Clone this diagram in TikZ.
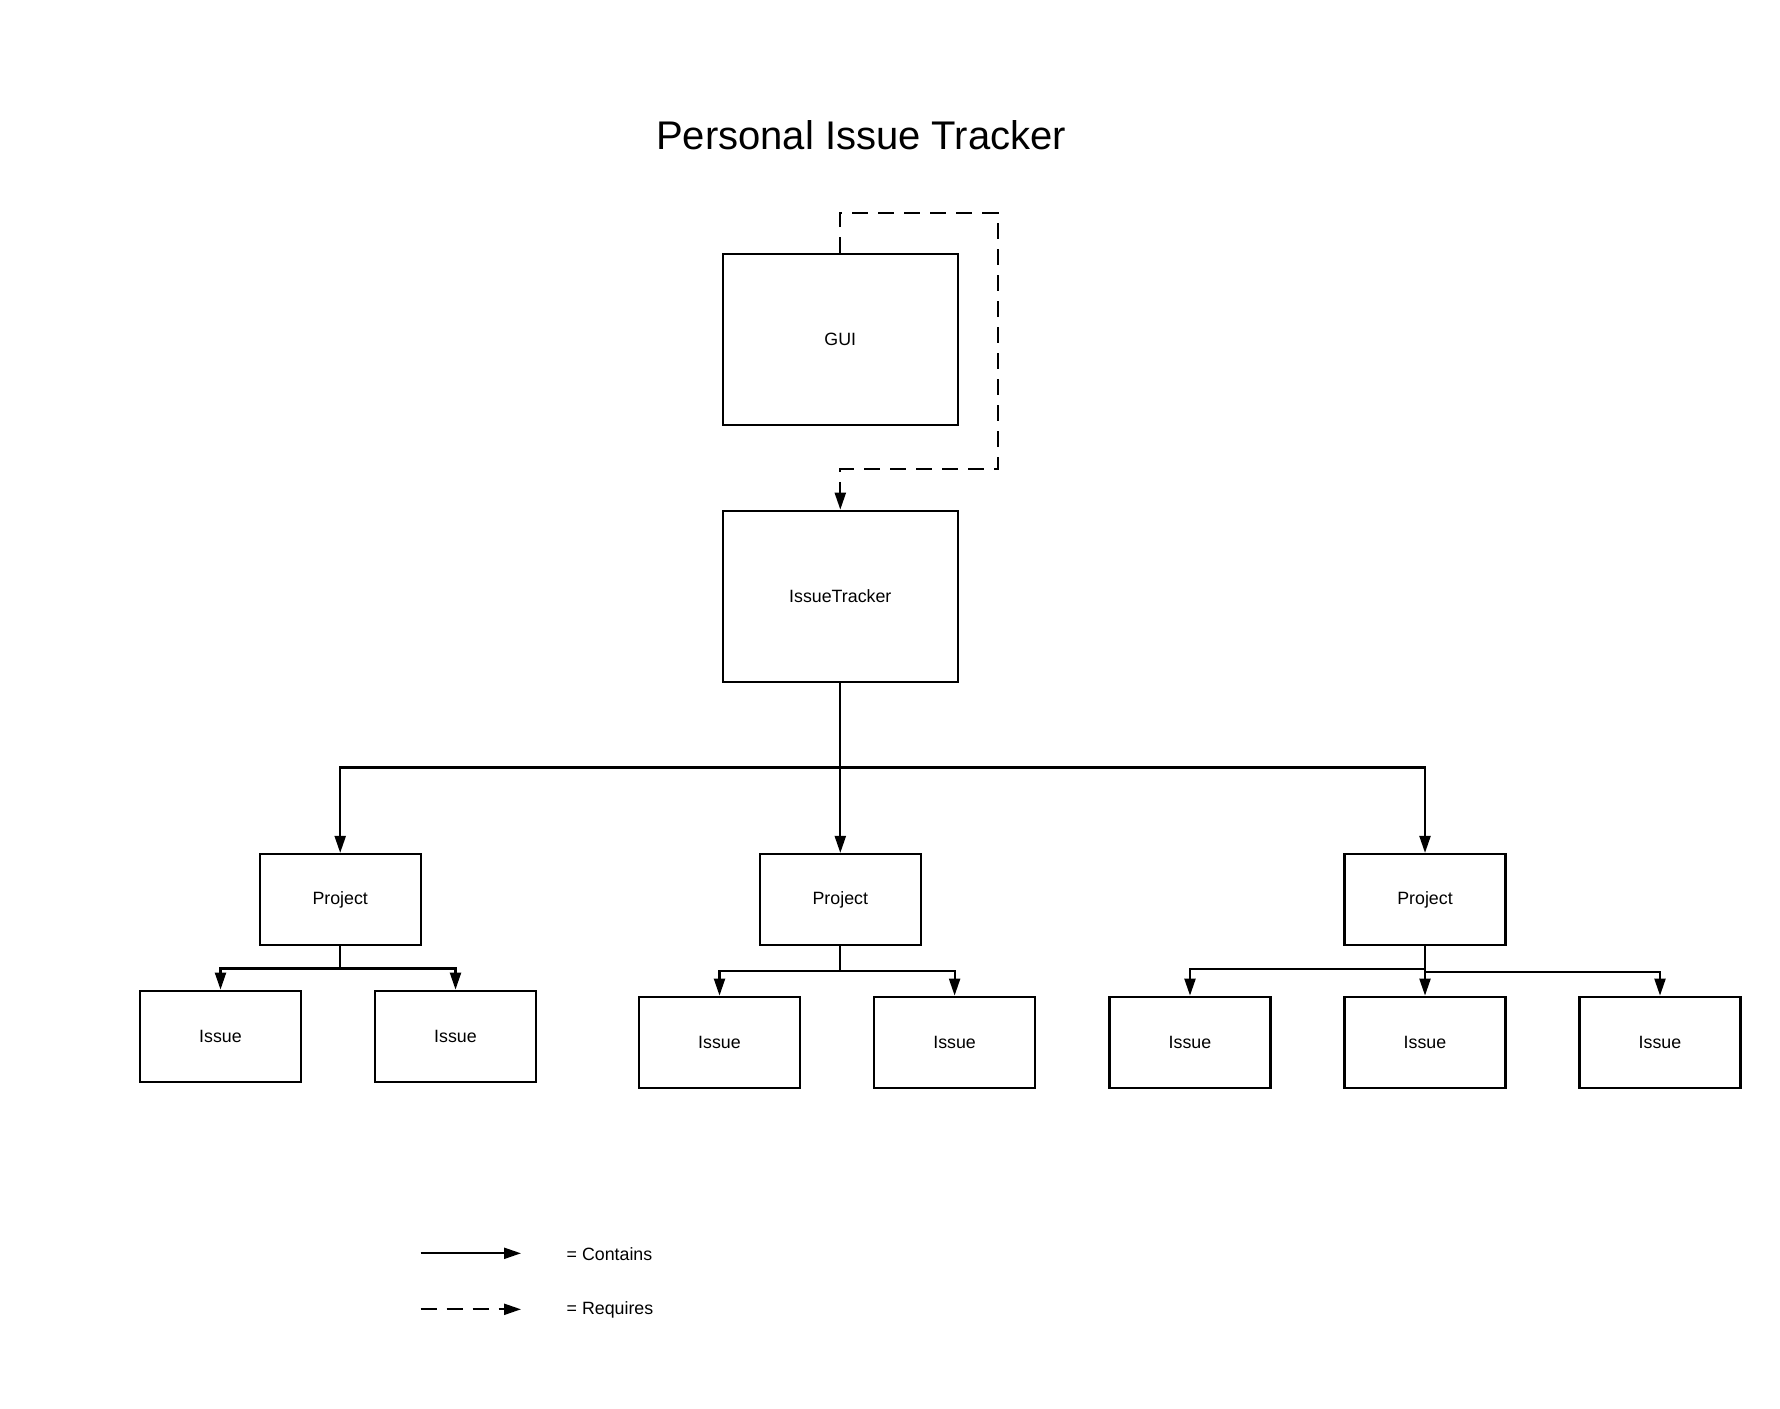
\documentclass[tikz,border=0pt]{standalone}
\usepackage{fontspec}
\setmainfont{Liberation Sans}
\usetikzlibrary{arrows.meta}
\begin{document}
\begin{tikzpicture}[x=1pt,y=-1pt,
  box/.style={draw,line width=2.2pt,rectangle,inner sep=0pt,minimum width=161pt,minimum height=91pt,font=\fontsize{17.8}{20}\selectfont},
  bigbox/.style={box,minimum width=235pt,minimum height=171.5pt},
  con/.style={line width=2.2pt,-{Triangle[length=17pt,width=11pt]}},
  req/.style={con,dash pattern=on 16pt off 10pt},
  lbl/.style={font=\fontsize{17.8}{20}\selectfont,anchor=west,inner sep=0pt}]
\useasboundingbox (0,0) rectangle (1780,1408);
\fill[white] (0,0) rectangle (1780,1408);
\node[font=\fontsize{40}{46}\selectfont] (title) at (861,135) {Personal Issue Tracker};
\node[bigbox] (GUI) at (840.3,339.5) {GUI};
\node[bigbox] (IT) at (840.3,596.5) {IssueTracker};
\node[box] (P1) at (340.2,899.5) {Project};
\node[box] (P2) at (840.3,899.5) {Project};
\node[box] (P3) at (1425,899.5) {Project};
\node[box] (I1) at (220.5,1036.2) {Issue};
\node[box] (I2) at (455.5,1036.2) {Issue};
\node[box] (I3) at (719.5,1042.2) {Issue};
\node[box] (I4) at (954.6,1042.2) {Issue};
\node[box] (I5) at (1190,1042.2) {Issue};
\node[box] (I6) at (1425,1042.2) {Issue};
\node[box] (I7) at (1660,1042.2) {Issue};
% requires loop
\coordinate (lt) at (840.3,212.7);
\coordinate (lb) at (997.7,469.3);
\draw[req] (GUI.north) -- (lt) -| (lb) -| (IT.north);
% contains
\coordinate (bus) at (840.3,767.5);
\draw[con] (IT.south) -- (P2.north);
\draw[con] (bus) -| (P1.north);
\draw[con] (bus) -| (P3.north);
\draw[con] (P1.south) -- ++(0,22.3) -| (I1.north);
\draw[con] (P1.south) ++(0,22.3) -| (I2.north);
\draw[con] (P2.south) -- ++(0,25) -| (I3.north);
\draw[con] (P2.south) ++(0,25) -| (I4.north);
\draw[con] (P3.south) -- ++(0,22.7) -| (I5.north);
\draw[con] (P3.south) -- (I6.north);
\draw[con] (P3.south) ++(0,25.7) -| (I7.north);
% legend
\coordinate (c1) at (420.7,1253.3);
\coordinate (c2) at (521,1253.3);
\coordinate (r1) at (420.7,1309.3);
\coordinate (r2) at (521,1309.3);
\draw[con] (c1) -- (c2);
\draw[req] (r1) -- (r2);
\node[lbl] (lc) at (566.5,1254) {= Contains};
\node[lbl] (lr) at (566.5,1310) {= Requires};
\end{tikzpicture}
\end{document}
